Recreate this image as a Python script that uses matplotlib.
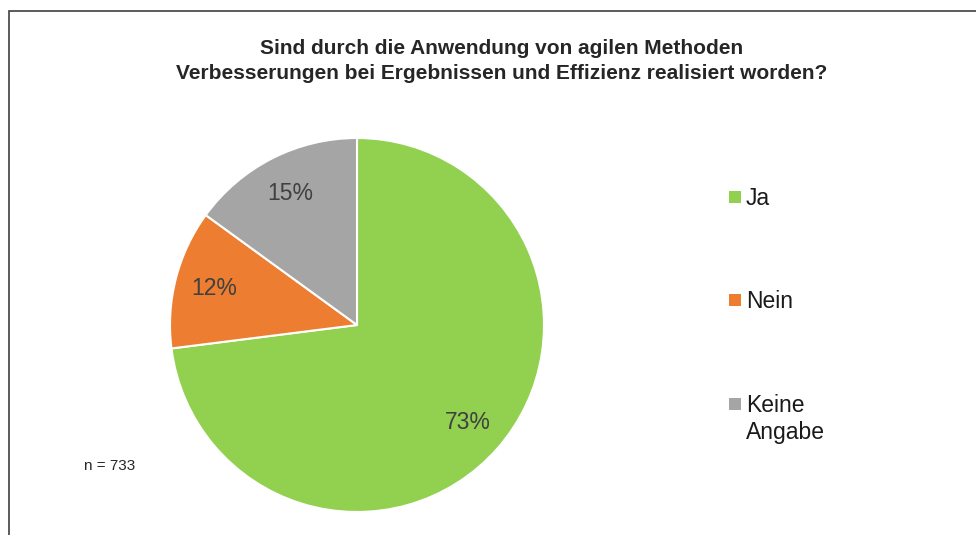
import matplotlib
matplotlib.use("Agg")
import matplotlib.pyplot as plt
from matplotlib.patches import Rectangle

plt.rcParams['font.family'] = ['Liberation Sans', 'DejaVu Sans']

labels = ["Ja", "Nein", "Keine\nAngabe"]
values = [73, 12, 15]
colors = ["#92D050", "#ED7D31", "#A5A5A5"]
title = "Sind durch die Anwendung von agilen Methoden\nVerbesserungen bei Ergebnissen und Effizienz realisiert worden?"
note = "n = 733"

W, H = 976, 535
fig = plt.figure(figsize=(W/100, H/100), dpi=100)
ax = fig.add_axes([0, 0, 1, 1])
ax.set_aspect('equal')
ax.axis('off')

# frame running off the right/bottom edge
ax.add_patch(Rectangle((8.5, -10), W, H - 11 + 10, fill=False, edgecolor='#404040', lw=1.2))

wedges, texts, autotexts = ax.pie(values, colors=colors, startangle=90, counterclock=False,
                                  center=(357, H - 325), radius=187,
                                  autopct=lambda p: f"{p:.0f}%", pctdistance=0.79,
                                  wedgeprops=dict(edgecolor='white', linewidth=1.5),
                                  textprops=dict(fontsize=16.5, color='#404040'))
ax.set_xlim(0, W)
ax.set_ylim(0, H)

ax.text(502, H - 61, title, ha='center', va='center', fontsize=15, fontweight='bold',
        color='#262626', linespacing=1.4)
ax.text(84, H - 466, note, ha='left', va='center', fontsize=11, color='#262626')

# legend, handle aligned with first line of each label
leg_y = [197, 300, 404]
for lab, col, y in zip(labels, colors, leg_y):
    ax.add_patch(Rectangle((729, H - y - 6), 12, 12, facecolor=col, edgecolor='none'))
    ax.text(746, H - y + 10, lab, ha='left', va='top', fontsize=16.5, color='#1a1a1a',
            linespacing=1.25)

fig.savefig("out.png", dpi=100)
